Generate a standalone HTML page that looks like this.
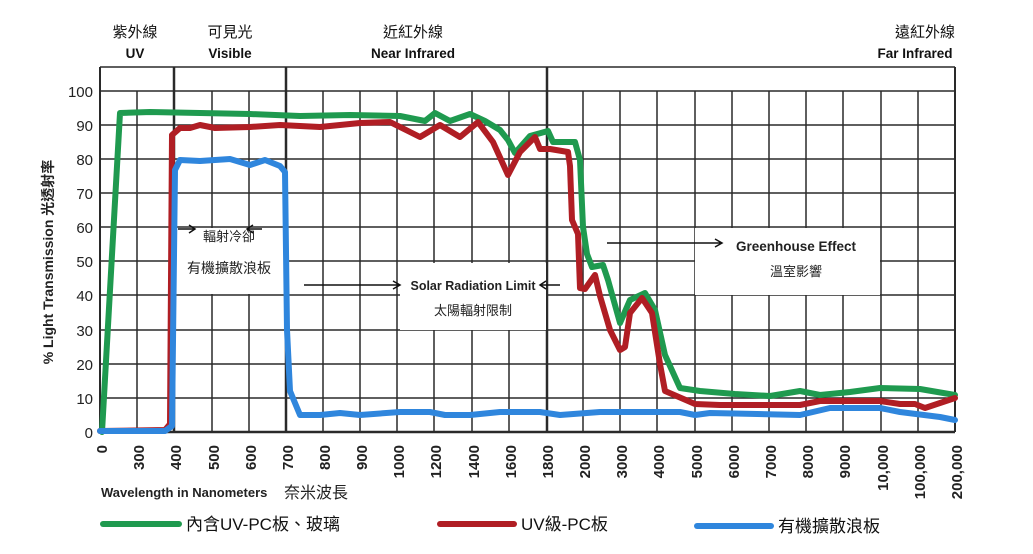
<!DOCTYPE html>
<html><head><meta charset="utf-8"><style>
body{margin:0;background:#fff;}
svg{display:block;font-family:"Liberation Sans","Noto Sans CJK TC",sans-serif;}
</style></head><body>
<svg width="1033" height="554" viewBox="0 0 1033 554" xmlns="http://www.w3.org/2000/svg">
<rect width="1033" height="554" fill="#fff"/>
<g stroke="#2a2a2a" stroke-width="1.5" fill="none">
<path d="M100 67H955M100 91H955M100 125H955M100 159H955M100 193H955M100 227H955M100 261H955M100 295H955M100 330H955M100 364H955M100 398H955"/>
<path d="M137 91V432M212 91V432M249 91V432M323 91V432M360 91V432M397 91V432M434 91V432M472 91V432M509 91V432M583 91V432M620 91V432M657 91V432M695 91V432M732 91V432M769 91V432M806 91V432M843 91V432M881 91V432M918 91V432"/>
<path d="M100 67V432M955 67V432" stroke-width="2"/>
<path d="M174 67V432M286 67V432M547 67V432" stroke-width="2.5"/>
<path d="M100 432H955" stroke-width="2.5"/>
</g>
<rect x="176" y="228" width="108" height="66" fill="#fff"/>
<rect x="400" y="263" width="146" height="67" fill="#fff"/>
<rect x="695" y="228" width="185" height="67" fill="#fff"/>
<g fill="none" stroke-linejoin="round" stroke-linecap="round" stroke-width="6">
<polyline stroke="#1f9a4f" points="102,432 120,113 150,112 200,113 250,114 300,116 350,115 400,116 425,121 435,113 450,121 470,114 485,121 500,130 508,140 515,153 530,136 548,131 553,142 575,142 580,160 583,227 587,254 592,267 603,265 608,280 620,323 630,300 645,293 655,310 665,355 680,388 700,391 735,394 770,396 800,391 820,395 850,392 880,388 920,389 955,395"/>
<polyline stroke="#b01e24" points="100,431 165,430 170,424 172,135 180,128 190,128 200,125 215,128 250,127 280,125 320,127 360,123 390,122 410,132 420,137 440,125 460,137 478,122 493,142 508,175 520,152 535,137 540,149 550,149 568,152 570,166 572,220 578,234 580,288 585,289 595,275 600,296 610,330 620,350 625,347 630,313 642,298 652,313 660,364 665,391 695,404 720,405 800,405 820,401 880,401 900,404 915,404 925,408 955,398"/>
<polyline stroke="#2f86dd" points="100,431 165,431 172,426 175,170 180,160 200,161 230,159 250,165 265,160 280,166 285,172 287,330 290,391 300,415 320,415 340,413 360,415 400,412 430,412 445,415 470,415 500,412 540,412 560,415 600,412 640,412 680,412 695,415 710,413 800,415 830,408 880,408 900,412 940,417 955,420"/>
</g>
<g stroke="#111" stroke-width="1.5" fill="none">
<path d="M178 229H195M189 225L195 229L189 233"/>
<path d="M262 229H247M253 225L247 229L253 233"/>
<path d="M304 285H400M393 281L400 285L393 289"/>
<path d="M560 285H540M546 281L540 285L546 289"/>
<path d="M607 243H722M715 239L722 243L715 247"/>
</g>
<g font-size="13" fill="#222">
<text x="229" y="241" text-anchor="middle">輻射冷卻</text>
<text x="229" y="273" text-anchor="middle" font-size="14">有機擴散浪板</text>
<text x="473" y="290" text-anchor="middle" font-weight="bold" font-size="12.5">Solar Radiation Limit</text>
<text x="473" y="315" text-anchor="middle">太陽輻射限制</text>
<text x="796" y="251" text-anchor="middle" font-weight="bold" font-size="13.5">Greenhouse Effect</text>
<text x="796" y="276" text-anchor="middle">溫室影響</text>
</g>
<g font-size="15" fill="#111" text-anchor="middle">
<text x="135" y="37">紫外線</text>
<text x="230" y="37">可見光</text>
<text x="413" y="37">近紅外線</text>
<text x="925" y="37">遠紅外線</text>
<g font-weight="bold" font-size="13.5">
<text x="135" y="58">UV</text>
<text x="230" y="58">Visible</text>
<text x="413" y="58">Near Infrared</text>
<text x="915" y="58">Far Infrared</text>
</g>
</g>
<g font-size="15" fill="#222" text-anchor="end">
<text x="93" y="97">100</text><text x="93" y="131">90</text><text x="93" y="165">80</text><text x="93" y="199">70</text><text x="93" y="233">60</text><text x="93" y="267">50</text><text x="93" y="301">40</text><text x="93" y="336">30</text><text x="93" y="370">20</text><text x="93" y="404">10</text><text x="93" y="438">0</text>
</g>
<text transform="translate(53,262) rotate(-90)" text-anchor="middle" font-size="14" font-weight="bold" fill="#222">% Light Transmission  光透射率</text>
<g font-size="15" font-weight="bold" fill="#222" text-anchor="end">
<text transform="translate(107,445) rotate(-90)">0</text>
<text transform="translate(144,445) rotate(-90)">300</text>
<text transform="translate(181,445) rotate(-90)">400</text>
<text transform="translate(219,445) rotate(-90)">500</text>
<text transform="translate(256,445) rotate(-90)">600</text>
<text transform="translate(293,445) rotate(-90)">700</text>
<text transform="translate(330,445) rotate(-90)">800</text>
<text transform="translate(367,445) rotate(-90)">900</text>
<text transform="translate(404,445) rotate(-90)">1000</text>
<text transform="translate(441,445) rotate(-90)">1200</text>
<text transform="translate(479,445) rotate(-90)">1400</text>
<text transform="translate(516,445) rotate(-90)">1600</text>
<text transform="translate(553,445) rotate(-90)">1800</text>
<text transform="translate(590,445) rotate(-90)">2000</text>
<text transform="translate(627,445) rotate(-90)">3000</text>
<text transform="translate(664,445) rotate(-90)">4000</text>
<text transform="translate(702,445) rotate(-90)">5000</text>
<text transform="translate(739,445) rotate(-90)">6000</text>
<text transform="translate(776,445) rotate(-90)">7000</text>
<text transform="translate(813,445) rotate(-90)">8000</text>
<text transform="translate(850,445) rotate(-90)">9000</text>
<text transform="translate(888,445) rotate(-90)">10,000</text>
<text transform="translate(925,445) rotate(-90)">100,000</text>
<text transform="translate(962,445) rotate(-90)">200,000</text>
</g>
<text x="101" y="497" font-size="13" font-weight="bold" fill="#222">Wavelength in Nanometers</text>
<text x="284" y="498" font-size="16" fill="#222">奈米波長</text>
<g stroke-width="6" stroke-linecap="round">
<line x1="103" y1="524" x2="179" y2="524" stroke="#1f9a4f"/>
<line x1="440" y1="524" x2="514" y2="524" stroke="#b01e24"/>
<line x1="697" y1="526" x2="771" y2="526" stroke="#2f86dd"/>
</g>
<g font-size="17" fill="#111">
<text x="186" y="530">內含UV-PC板、玻璃</text>
<text x="521" y="530">UV級-PC板</text>
<text x="778" y="532">有機擴散浪板</text>
</g>
</svg>
</body></html>
